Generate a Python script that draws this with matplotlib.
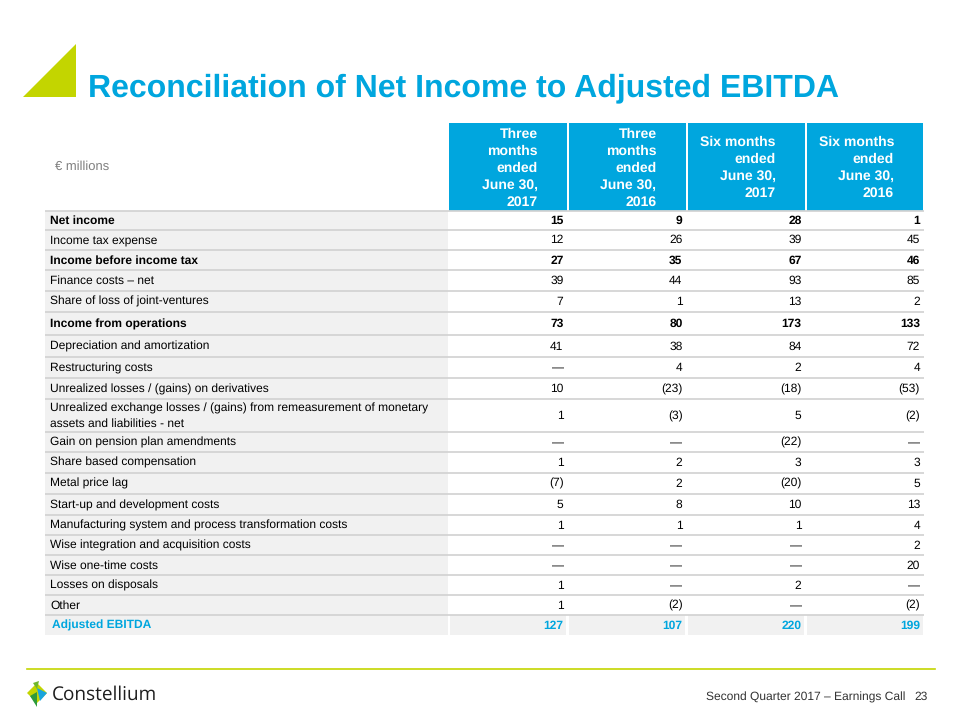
import matplotlib
matplotlib.use("Agg")
import matplotlib.pyplot as plt
from matplotlib.patches import Rectangle, Polygon

plt.rcParams["font.family"] = ["Liberation Sans", "DejaVu Sans"]
plt.rcParams["text.hinting"] = "no_hinting"
plt.rcParams["text.hinting_factor"] = 1

BLUE = "#00a6de"
LIME = "#c3d500"
GRID = "#d4d4d4"
SHADE = "#f1f1f1"

title = "Reconciliation of Net Income to Adjusted EBITDA"
unit_label = "€ millions"
col_headers = [
    "Three\nmonths\nended\nJune 30,\n2017",
    "Three\nmonths\nended\nJune 30,\n2016",
    "Six months\nended\nJune 30,\n2017",
    "Six months\nended\nJune 30,\n2016",
]
row_labels = [
    "Net income",
    "Income tax expense",
    "Income before income tax",
    "Finance costs – net",
    "Share of loss of joint-ventures",
    "Income from operations",
    "Depreciation and amortization",
    "Restructuring costs",
    "Unrealized losses / (gains) on derivatives",
    "Unrealized exchange losses / (gains) from remeasurement of monetary\nassets and liabilities - net",
    "Gain on pension plan amendments",
    "Share based compensation",
    "Metal price lag",
    "Start-up and development costs",
    "Manufacturing system and process transformation costs",
    "Wise integration and acquisition costs",
    "Wise one-time costs",
    "Losses on disposals",
    "Other",
    "Adjusted EBITDA",
]
q2_2017 = ["15", "12", "27", "39", "7", "73", "41", "—", "10", "1", "—", "1",
           "(7)", "5", "1", "—", "—", "1", "1", "127"]
q2_2016 = ["9", "26", "35", "44", "1", "80", "38", "4", "(23)", "(3)", "—", "2",
           "2", "8", "1", "—", "—", "—", "(2)", "107"]
h1_2017 = ["28", "39", "67", "93", "13", "173", "84", "2", "(18)", "5", "(22)", "3",
           "(20)", "10", "1", "—", "—", "2", "—", "220"]
h1_2016 = ["1", "45", "46", "85", "2", "133", "72", "4", "(53)", "(2)", "—", "3",
           "5", "13", "4", "2", "20", "—", "(2)", "199"]
bold_rows = ["Net income", "Income before income tax", "Income from operations"]
total_row = "Adjusted EBITDA"
footer = "Second Quarter 2017 – Earnings Call"
page_no = "23"

# layout in pixels
row_heights = [18.5, 20.5, 20, 20.5, 21.5, 23, 22, 21, 21, 33,
               20, 20.5, 21.5, 21, 20, 20, 20, 20, 20, 20]
table_left, label_right = 45, 448
col_edges = [448, 567.5, 686.5, 805.5, 924]
head_top, head_bottom = 123, 211

fig = plt.figure(figsize=(9.6, 7.2), dpi=100)
ax = fig.add_axes([0, 0, 1, 1])
ax.set_xlim(0, 960)
ax.set_ylim(720, 0)
ax.axis("off")

# title and triangle
ax.add_patch(Polygon([(23, 97), (76, 44), (76, 97)], closed=True, color=LIME, lw=0))
ax.text(88, 88.5, title, color=BLUE, fontsize=23, fontweight="bold", va="center", ha="left")

# header
ax.text(55, 167, unit_label, color="#7f7f7f", fontsize=9, va="center", ha="left")
for i, hdr in enumerate(col_headers):
    x0, x1 = col_edges[i], col_edges[i + 1]
    ax.add_patch(Rectangle((x0 + 1, head_top), x1 - x0 - 2, head_bottom - head_top,
                           color=BLUE, lw=0))
    ax.text(x1 - 30, (head_top + head_bottom) / 2 + 1, hdr, color="white", fontsize=10,
            fontweight="bold", ha="right", va="center", multialignment="right",
            linespacing=1.4)

# body
cols = [q2_2017, q2_2016, h1_2017, h1_2016]
y = head_bottom
for r, label in enumerate(row_labels):
    h = row_heights[r]
    yc = y + h / 2
    is_total = label == total_row
    ax.add_patch(Rectangle((table_left, y), label_right - table_left, h, color=SHADE, lw=0))
    if is_total:
        for i in range(4):
            x0, x1 = col_edges[i], col_edges[i + 1]
            ax.add_patch(Rectangle((x0 + 1.5, y), x1 - x0 - 3, h, color=SHADE, lw=0))
    weight = "bold" if (label in bold_rows or is_total) else "normal"
    color = BLUE if is_total else "black"
    ax.text(52 if is_total else 50, yc + 0.5, label, fontsize=8.8, fontweight=weight,
            color=color, ha="left", va="center", linespacing=1.5)
    for i, vals in enumerate(cols):
        ax.text(col_edges[i + 1] - 4, yc + 0.5, vals[r], fontsize=8.8, fontweight=weight,
                color=color, ha="right", va="center")
    ax.plot([table_left, col_edges[-1]], [y, y], color=GRID, lw=1.3, solid_capstyle="butt")
    y += h

# footer
ax.plot([27, 935], [669, 669], color=LIME, lw=1.2)
ax.add_patch(Polygon([(27, 693), (37, 683), (47, 693), (37, 703)], closed=True,
                     color=LIME, lw=0))
ax.add_patch(Polygon([(37, 688), (47, 693), (40, 701)], closed=True, color="#19a4dd", lw=0))
ax.add_patch(Polygon([(30, 696), (37, 692), (37, 707)], closed=True, color="#2d9a3a", lw=0))
ax.add_patch(Polygon([(33, 683), (39, 681), (37, 689)], closed=True, color="#6fb62c", lw=0))
ax.text(52, 695, "Constellium", family=["Open Sans", "DejaVu Sans"], fontsize=14,
        color="#1e1e1e", ha="left", va="center")
ax.text(905, 697, footer, fontsize=8.5, color="#333333", ha="right", va="center")
ax.text(928, 697, page_no, fontsize=8.5, color="#333333", ha="right", va="center")

fig.savefig("out.png", dpi=100, facecolor="white")
